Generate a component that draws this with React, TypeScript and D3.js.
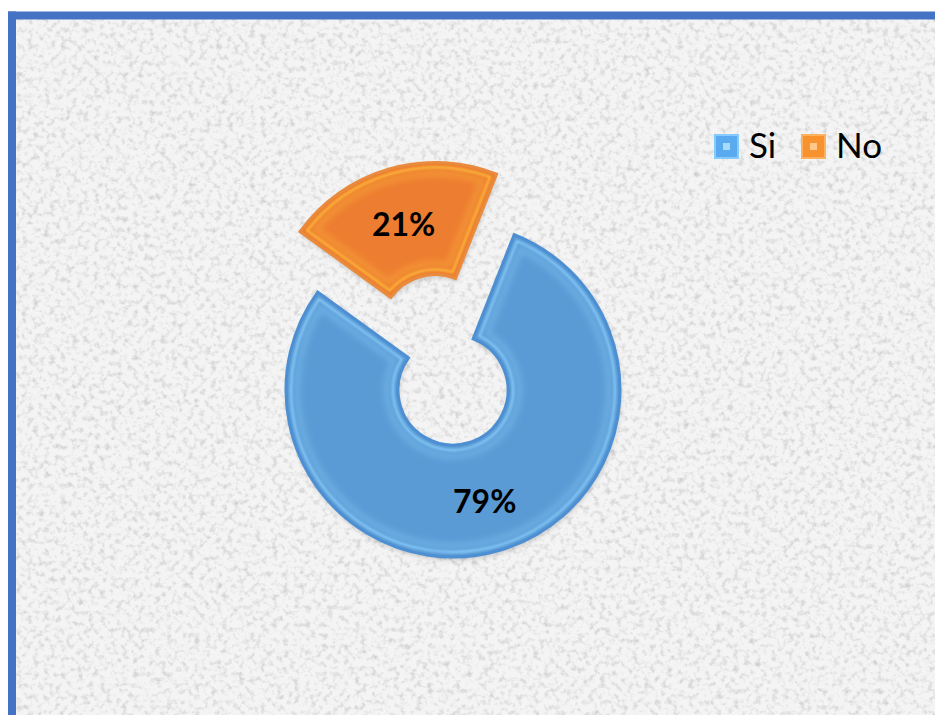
import React from "react";
import * as d3 from "d3";

const CATEGORIES = ["Si", "No"];
const VALUES = [79, 21];
const LABELS = ["79%", "21%"];
const COLORS = ["#5b9bd5", "#ed7d31"];
const EDGE_COLORS = ["#4d8fd3", "#e98a3c"];
const HIGHLIGHT_COLORS = ["#8fd4ff", "#ffc43a"];
const EXPLODE = [0, 63];

const W = 935;
const H = 715;
const CX = 453;
const CY = 390;
const R_OUT = 167;
const R_IN = 55;
const START_DEG = 21.5;

export default function App() {
  const start = (START_DEG * Math.PI) / 180;
  const pie = d3
    .pie<number>()
    .sort(null)
    .startAngle(start)
    .endAngle(start + 2 * Math.PI);
  const arcs = pie(VALUES);

  const arcMain = d3.arc<d3.PieArcDatum<number>>().innerRadius(R_IN).outerRadius(R_OUT);
  const arcInset = d3
    .arc<d3.PieArcDatum<number>>()
    .innerRadius(R_IN + 5)
    .outerRadius(R_OUT - 5)
    .padRadius(100)
    .padAngle(0.1);
  const arcInset2 = d3
    .arc<d3.PieArcDatum<number>>()
    .innerRadius(R_IN + 11)
    .outerRadius(R_OUT - 11)
    .padRadius(100)
    .padAngle(0.22);
  const labelArc = d3
    .arc<d3.PieArcDatum<number>>()
    .innerRadius(R_IN + 50)
    .outerRadius(R_OUT - 46);

  const legendX = [715, 802];
  const legendY = 135;

  return (
    <svg
      width={W}
      height={H}
      style={{ position: "absolute", left: 0, top: 0, display: "block" }}
    >
      <defs>
        <filter id="grain" x="0" y="0" width="100%" height="100%">
          <feTurbulence type="fractalNoise" baseFrequency="0.18" numOctaves="3" seed="7" result="n" />
          <feColorMatrix
            in="n"
            type="matrix"
            values="0 0 0 0 0.6  0 0 0 0 0.6  0 0 0 0 0.6  2.2 0 0 0 -1.05"
          />
        </filter>
        <filter id="soft" x="-10%" y="-10%" width="120%" height="120%">
          <feGaussianBlur stdDeviation="1" />
        </filter>
        <filter id="soft3" x="-10%" y="-10%" width="120%" height="120%">
          <feGaussianBlur stdDeviation="3" />
        </filter>
        <filter id="shadow" x="-10%" y="-10%" width="120%" height="120%">
          <feGaussianBlur stdDeviation="2.5" />
        </filter>
      </defs>

      <rect x={0} y={0} width={W} height={H} fill="#ffffff" />
      <rect x={16} y={19.5} width={W - 16} height={H - 19.5} fill="#f4f4f4" />
      <rect x={16} y={19.5} width={W - 16} height={H - 19.5} filter="url(#grain)" />
      <rect x={8} y={11.5} width={W - 8} height={8} fill="#4472c4" />
      <rect x={8} y={11.5} width={8} height={H - 11.5} fill="#4472c4" />

      {arcs.map((a, i) => {
        const mid = (a.startAngle + a.endAngle) / 2;
        const dx = Math.sin(mid) * EXPLODE[i];
        const dy = -Math.cos(mid) * EXPLODE[i];
        return (
          <g key={CATEGORIES[i]} transform={`translate(${CX + dx},${CY + dy})`}>
            <path
              d={arcMain(a) || ""}
              transform="translate(1,3)"
              fill="rgba(0,0,0,0.18)"
              filter="url(#shadow)"
            />
            <path d={arcMain(a) || ""} fill={COLORS[i]} stroke={EDGE_COLORS[i]} strokeWidth={3} />
            <path
              d={arcInset2(a) || ""}
              fill="none"
              stroke={HIGHLIGHT_COLORS[i]}
              strokeOpacity={0.35}
              strokeWidth={6}
              filter="url(#soft3)"
            />
            <path
              d={arcInset(a) || ""}
              fill="none"
              stroke={HIGHLIGHT_COLORS[i]}
              strokeWidth={2}
              strokeOpacity={0.9}
              filter="url(#soft)"
            />
          </g>
        );
      })}

      {arcs.map((a, i) => {
        const mid = (a.startAngle + a.endAngle) / 2;
        const dx = Math.sin(mid) * EXPLODE[i];
        const dy = -Math.cos(mid) * EXPLODE[i];
        const [lx, ly] = labelArc.centroid(a);
        return (
          <text
            key={"l" + i}
            x={CX + dx + lx}
            y={CY + dy + ly + 15}
            textAnchor="middle"
            fontFamily="Lato, 'Open Sans', sans-serif"
            fontWeight={700}
            fontSize={32}
            fill="#000000"
          >
            {LABELS[i]}
          </text>
        );
      })}

      {CATEGORIES.map((c, i) => (
        <g key={"lg" + c}>
          <rect
            x={legendX[i]}
            y={legendY}
            width={23}
            height={23}
            fill={i === 0 ? "#5aaaf0" : "#f7922f"}
            stroke={i === 0 ? "#86cbfb" : "#fbb15f"}
            strokeWidth={2}
          />
          <rect
            x={legendX[i] + 8}
            y={legendY + 8}
            width={7}
            height={7}
            fill={i === 0 ? "#a7dafb" : "#fcc98a"}
          />
          <text
            x={legendX[i] + 34}
            y={legendY + 23}
            fontFamily="Lato, 'Open Sans', sans-serif"
            fontSize={35}
            fill="#000000"
          >
            {c}
          </text>
        </g>
      ))}
    </svg>
  );
}
